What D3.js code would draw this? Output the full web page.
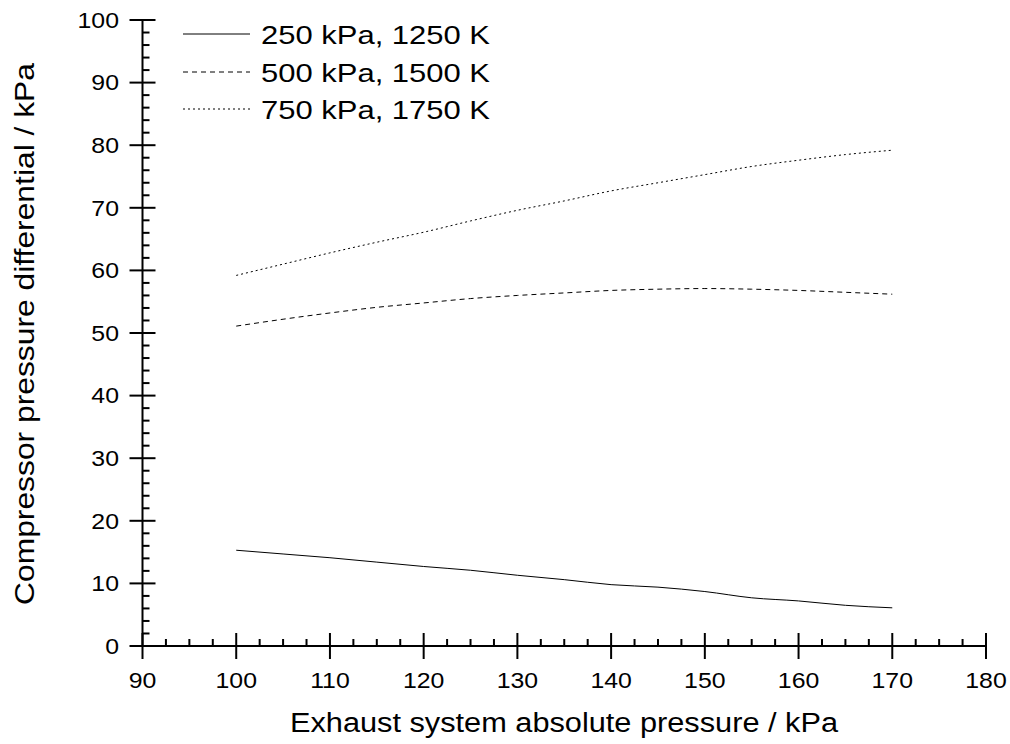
<!DOCTYPE html>
<html>
<head>
<meta charset="utf-8">
<script src="https://cdn.jsdelivr.net/npm/d3@7"></script>
<style>
  html, body { margin: 0; padding: 0; background: #fff; }
  text { font-family: Arial, "Liberation Sans", sans-serif; fill: #000; }
</style>
</head>
<body>
<svg id="chart" width="1010" height="744"></svg>
<script>
const pressures = [100, 105, 110, 115, 120, 125, 130, 135, 140, 145, 150, 155, 160, 165, 170];
const series250 = [15.3, 14.7, 14.1, 13.4, 12.7, 12.1, 11.3, 10.6, 9.8, 9.4, 8.7, 7.7, 7.2, 6.5, 6.1];
const series500 = [51.1, 52.2, 53.2, 54.1, 54.8, 55.5, 56.0, 56.4, 56.8, 57.0, 57.1, 57.0, 56.8, 56.5, 56.2];
const series750 = [59.2, 61.0, 62.8, 64.5, 66.1, 67.9, 69.6, 71.1, 72.7, 74.0, 75.3, 76.6, 77.6, 78.5, 79.2];
const seriesNames = ["250 kPa, 1250 K", "500 kPa, 1500 K", "750 kPa, 1750 K"];
const xTicks = [90, 100, 110, 120, 130, 140, 150, 160, 170, 180];
const yTicks = [0, 10, 20, 30, 40, 50, 60, 70, 80, 90, 100];
const xTitle = "Exhaust system absolute pressure / kPa";
const yTitle = "Compressor pressure differential / kPa";

const svg = d3.select("#chart");
const x = d3.scaleLinear().domain([90, 180]).range([142.5, 986]);
const y = d3.scaleLinear().domain([0, 100]).range([646, 20]);

const allSeries = [series250, series500, series750];
const dashes = [null, "5,4", "2,3"];

const line = d3.line().x(d => x(d[0])).y(d => y(d[1])).curve(d3.curveMonotoneX);

allSeries.forEach((s, i) => {
  svg.append("path")
    .datum(pressures.map((p, j) => [p, s[j]]))
    .attr("d", line)
    .attr("fill", "none")
    .attr("stroke", "#000")
    .attr("stroke-width", 1)
    .attr("stroke-dasharray", dashes[i]);
});

// minor ticks
const xMinor = d3.range(90, 180.01, 2.5).filter(v => Math.abs(v % 10) > 1e-6);
const yMinor = d3.range(0, 100.01, 2).filter(v => Math.abs(v % 10) > 1e-6);

const axes = svg.append("g").attr("stroke", "#000").attr("stroke-width", 2);
axes.append("line").attr("x1", x(90)).attr("x2", x(180)).attr("y1", y(0)).attr("y2", y(0));
axes.append("line").attr("x1", x(90)).attr("x2", x(90)).attr("y1", y(0)).attr("y2", y(100));

xMinor.forEach(v => axes.append("line").attr("x1", x(v)).attr("x2", x(v)).attr("y1", y(0)).attr("y2", y(0) - 7));
yMinor.forEach(v => axes.append("line").attr("x1", x(90)).attr("x2", x(90) + 7).attr("y1", y(v)).attr("y2", y(v)));
xTicks.forEach(v => axes.append("line").attr("x1", x(v)).attr("x2", x(v)).attr("y1", y(0) - 13).attr("y2", y(0) + 13));
yTicks.forEach(v => axes.append("line").attr("x1", x(90) - 13).attr("x2", x(90) + 13).attr("y1", y(v)).attr("y2", y(v)));

// tick labels (glyphs in the reference are horizontally wide)
svg.append("g").selectAll("text").data(xTicks).join("text")
  .attr("transform", d => `translate(${x(d)},688) scale(1.13,1)`)
  .attr("text-anchor", "middle").attr("font-size", 22)
  .text(d => d);
svg.append("g").selectAll("text").data(yTicks).join("text")
  .attr("transform", d => `translate(119,${y(d) + 7.8}) scale(1.13,1)`)
  .attr("text-anchor", "end").attr("font-size", 22)
  .text(d => d);

// axis titles
svg.append("text").attr("x", 564).attr("y", 732)
  .attr("text-anchor", "middle").attr("font-size", 27)
  .attr("textLength", 548).attr("lengthAdjust", "spacingAndGlyphs")
  .text(xTitle);
svg.append("text").attr("transform", "translate(34,334) rotate(-90)")
  .attr("text-anchor", "middle").attr("font-size", 27)
  .attr("textLength", 542).attr("lengthAdjust", "spacingAndGlyphs")
  .text(yTitle);

// legend
const legY = [34, 72, 109];
seriesNames.forEach((n, i) => {
  svg.append("line").attr("x1", 183).attr("x2", 250).attr("y1", legY[i]).attr("y2", legY[i])
    .attr("stroke", "#000").attr("stroke-width", 1).attr("stroke-dasharray", dashes[i]);
  svg.append("text").attr("x", 261).attr("y", legY[i] + 9.5)
    .attr("font-size", 25.5)
    .attr("textLength", 229).attr("lengthAdjust", "spacingAndGlyphs")
    .text(n);
});
</script>
</body>
</html>
